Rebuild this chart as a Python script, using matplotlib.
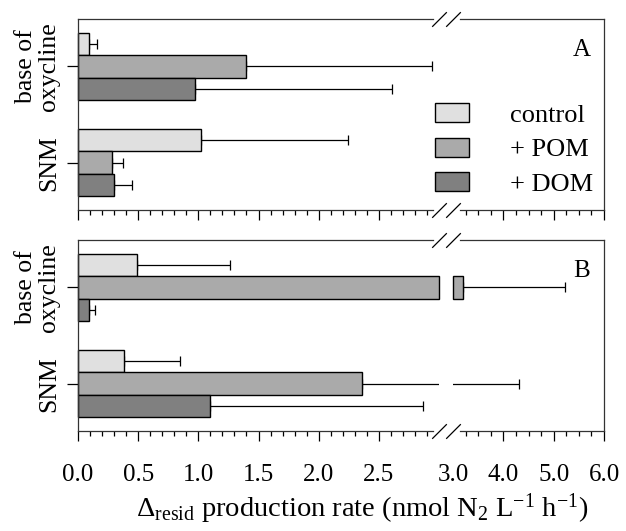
import numpy as np
import matplotlib
matplotlib.use('Agg')
import matplotlib.pyplot as plt
import matplotlib.ticker as tck

plt.rcParams.update({
    'font.family': 'Liberation Serif',
    'mathtext.fontset': 'custom',
    'mathtext.rm': 'Liberation Serif',
    'mathtext.it': 'Liberation Serif:italic',
    'font.size': 18,
})

# data (bar value, error = +SD)
groups = ['SNM', 'base of\noxycline']
treatments = ['control', '+ POM', '+ DOM']
colors = ['#e0e0e0', '#aaaaaa', '#808080']

# rows: control, POM, DOM ; columns: SNM, base of oxycline
A_vals = [[1.02, 0.09], [0.28, 1.40], [0.30, 0.97]]
A_errs = [[1.22, 0.07], [0.09, 1.54], [0.15, 1.64]]
B_vals = [[0.38, 0.49], [2.36, 3.20], [1.10, 0.09]]
B_errs = [[0.47, 0.77], [1.95, 2.02], [1.77, 0.05]]

brk = 3.0
xmax = 6.0
bar_h = 0.233
offsets = [bar_h, 0.0, -bar_h]

W, H = 626, 531


def add_break_marks(ax_l, ax_r):
    kw = dict(marker=[(-1, -1), (1, 1)], markersize=10.5, linestyle='none',
              color='k', mec='k', mew=0.9, clip_on=False, zorder=5)
    ax_l.plot([1, 1], [0, 1], transform=ax_l.transAxes, **kw)
    ax_r.plot([0, 0], [0, 1], transform=ax_r.transAxes, **kw)


def draw_panel(ax_l, ax_r, vals, errs, letter, show_labels):

    y = np.arange(len(groups))
    handles = []

    for i, t in enumerate(treatments):
        v = np.array(vals[i])
        e = np.array(errs[i])
        yy = y + offsets[i]

        h = ax_l.barh(yy, np.minimum(v, brk), height=bar_h, color=colors[i],
                      edgecolor='k', linewidth=1.0, clip_on=False, zorder=2)
        handles.append(h)

        m = v > brk
        if m.any():
            ax_r.barh(yy[m], v[m] - brk, left=brk, height=bar_h, color=colors[i],
                      edgecolor='k', linewidth=1.0, clip_on=False, zorder=2)

        for ax in (ax_l, ax_r):
            ax.errorbar(v, yy, xerr=[np.zeros_like(e), e], fmt='none', ecolor='k',
                        elinewidth=0.9, capsize=3.5, capthick=0.9, zorder=1)

    for ax in (ax_l, ax_r):
        ax.set_ylim(-0.49, 1.49)
        for s in ax.spines.values():
            s.set_linewidth(0.9)
            s.set_color('#333333')
        ax.tick_params(axis='x', which='major', direction='out', length=7, width=0.9,
                       pad=17, labelsize=18)
        ax.tick_params(axis='x', which='minor', direction='out', length=3.5, width=0.9)

    # left part
    ax_l.set_xlim(0, brk)
    ax_l.spines['right'].set_visible(False)
    ax_l.spines['top'].set_bounds(0, 2.95)
    ax_l.spines['bottom'].set_bounds(0, 2.95)
    ax_l.set_xticks(np.arange(0, 2.6, 0.5))
    ax_l.xaxis.set_minor_locator(tck.FixedLocator(np.arange(0, 2.95, 0.1)))
    ax_l.set_yticks(y)
    ax_l.set_yticklabels(groups, rotation=90, va='center', multialignment='center',
                         linespacing=1.05)
    ax_l.tick_params(axis='y', direction='out', length=8, width=0.9, pad=5, labelsize=18.5)

    # right part
    ax_r.set_xlim(brk, xmax)
    ax_r.spines['left'].set_visible(False)
    ax_r.spines['top'].set_bounds(3.14, xmax)
    ax_r.spines['bottom'].set_bounds(3.14, xmax)
    ax_r.set_xticks([3.0, 4.0, 5.0, 6.0])
    ax_r.xaxis.set_minor_locator(tck.FixedLocator([3.25, 3.5, 3.75, 4.25, 4.5, 4.75,
                                                   5.25, 5.5, 5.75]))
    ax_r.xaxis.get_major_ticks()[0].tick1line.set_visible(False)
    ax_r.set_yticks([])

    fmt = tck.FormatStrFormatter('%.1f')
    ax_l.xaxis.set_major_formatter(fmt)
    ax_r.xaxis.set_major_formatter(fmt)
    if not show_labels:
        ax_l.tick_params(axis='x', labelbottom=False)
        ax_r.tick_params(axis='x', labelbottom=False)

    add_break_marks(ax_l, ax_r)

    ax_r.text(0.854, 0.84, letter, transform=ax_r.transAxes, ha='center', va='center',
              fontsize=18)

    return handles


fig = plt.figure(figsize=(W / 100, H / 100), dpi=100)

xl, wl = 78 / W, 361 / W
xr, wr = 453 / W, 151 / W
hh = 191 / H

axA_l = fig.add_axes([xl, 1 - 210 / H, wl, hh])
axA_r = fig.add_axes([xr, 1 - 210 / H, wr, hh])
axB_l = fig.add_axes([xl, 1 - 431 / H, wl, hh])
axB_r = fig.add_axes([xr, 1 - 431 / H, wr, hh])

handles = draw_panel(axA_l, axA_r, A_vals, A_errs, 'A', False)
draw_panel(axB_l, axB_r, B_vals, B_errs, 'B', True)

fig.legend(handles, treatments, loc='upper left', bbox_to_anchor=(435 / W, 1 - 103 / H),
           frameon=False, borderpad=0, borderaxespad=0, handlelength=1.29,
           handleheight=0.72, handletextpad=1.55, labelspacing=0.42, fontsize=19)

fig.text(362 / W, 1 - 509 / H,
         r'$\mathrm{\Delta_{resid}}$ production rate (nmol N$_2$ L$^{-1}$ h$^{-1}$)',
         ha='center', va='center', fontsize=20.5)

plt.savefig('out.png', dpi=100)
